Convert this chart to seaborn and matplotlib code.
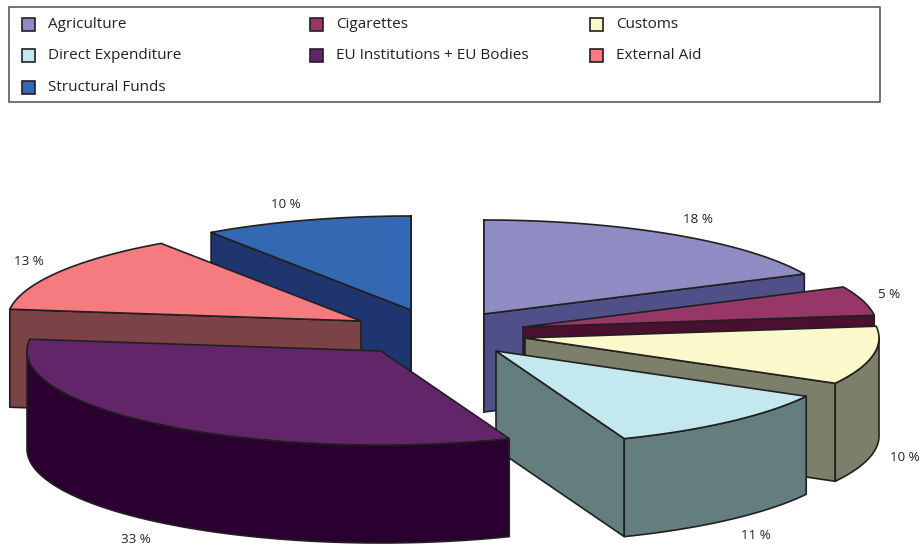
"""Exploded 3D-look pie chart, drawn with filled polygons in pixel coordinates."""

import numpy as np
import matplotlib
matplotlib.use('Agg')
import matplotlib.pyplot as plt
from matplotlib.patches import Rectangle
import seaborn as sns

categories = ['Agriculture', 'Cigarettes', 'Customs', 'Direct Expenditure',
              'EU Institutions + EU Bodies', 'External Aid', 'Structural Funds']
# labels show them rounded
shares = [18, 5, 10, 11.1, 32.9, 13.45, 9.55]

top_colors = ['#8f8cc4', '#963768', '#fbf8cb', '#c4e8ef', '#62256a', '#f67b80', '#3468b2']
side_colors = ['#4f5088', '#4a1030', '#7c7f6a', '#647e80', '#2a0030', '#7b4345', '#1f3570']

# explode offsets: where each slice's apex ended up, in pixels
apex_x = [484, 523, 525, 496, 381, 361, 411]
apex_y = [314, 327, 338, 351, 351, 321, 310]
# where the percentage labels sit
label_x = [698, 889, 905, 756, 136, 29, 286]
label_y = [219, 294, 457, 535, 539, 261, 204]
# legend layout
legend_col_x = [22, 310, 590]
legend_row_y = [24, 55, 87]

RX, RY, DEPTH = 354, 94, 98
LINE = '#231f20'
DRAW_ORDER = [6, 5, 0, 1, 2, 3, 4]

sns.set_theme(style='white')
plt.rcParams['font.family'] = ['Open Sans', 'DejaVu Sans']

fig = plt.figure(figsize=(9.23, 5.46), dpi=100)
ax = fig.add_axes([0, 0, 1, 1])
ax.set_xlim(0, 923)
ax.set_ylim(546, 0)
ax.axis('off')

edges = np.radians(np.cumsum([0] + shares) / sum(shares) * 360)


def rim(cx, cy, angles, drop=0):
    # angle runs clockwise from twelve o'clock
    return cx + RX * np.sin(angles), cy - RY * np.cos(angles) + drop


def poly(xs, ys, color):
    ax.fill(xs, ys, facecolor=color, edgecolor=LINE, linewidth=1.2, joinstyle='round')


for i in DRAW_ORDER:
    cx, cy = apex_x[i], apex_y[i]
    a0, a1 = edges[i], edges[i + 1]

    # radial walls, only those facing the viewer
    for a, visible in ((a0, np.sin(a0) <= 1e-9), (a1, np.sin(a1) >= -1e-9)):
        if visible:
            rx, ry = rim(cx, cy, a)
            poly([cx, rx, rx, cx], [cy, ry, ry + DEPTH, cy + DEPTH], side_colors[i])

    # outer wall, front half of the ellipse only
    lo, hi = max(a0, np.pi / 2), min(a1, 3 * np.pi / 2)
    if hi > lo:
        t = np.linspace(lo, hi, 100)
        xs, ys = rim(cx, cy, t)
        poly(np.r_[xs, xs[::-1]], np.r_[ys, ys[::-1] + DEPTH], side_colors[i])

    # top face
    t = np.linspace(a0, a1, 100)
    xs, ys = rim(cx, cy, t)
    poly(np.r_[cx, xs], np.r_[cy, ys], top_colors[i])

for i, share in enumerate(shares):
    ax.text(label_x[i], label_y[i] + 0.5, f'{share:.0f} %', fontsize=9.6, color=LINE,
            ha='center', va='center')

# legend box
ax.add_patch(Rectangle((9, 7), 871, 95, facecolor='white', edgecolor='#4d4d4f', linewidth=1.1))
for i, name in enumerate(categories):
    lx = legend_col_x[i % 3]
    ly = legend_row_y[i // 3]
    ax.add_patch(Rectangle((lx, ly - 6.5), 13, 13, facecolor=top_colors[i],
                           edgecolor=LINE, linewidth=1.2))
    ax.text(lx + 26, ly + 0.5, name, fontsize=11, color=LINE, ha='left', va='center')

fig.savefig('out.png', dpi=100)
